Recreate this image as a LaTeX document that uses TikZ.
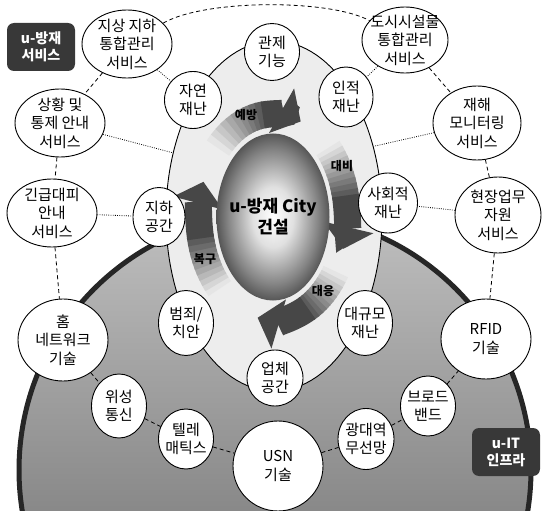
\documentclass[tikz,border=0pt]{standalone}
\usepackage{fontspec}
\setmainfont{Noto Sans CJK KR}
\usetikzlibrary{shapes.geometric,arrows.meta,calc}

\pgfdeclareradialshading{sphereshade}{\pgfpoint{0bp}{0bp}}{color(0bp)=(white); color(9bp)=(black!12); color(20bp)=(black!48); color(31bp)=(black!88); color(50bp)=(black)}

\tikzset{
  bub/.style 2 args={ellipse, draw, line width=0.9pt, fill=white, inner xsep=-6pt, inner ysep=-2pt,
    minimum width=#1, minimum height=#2, align=center, font=\fontsize{15}{18.5}\selectfont},
  svclink/.style={dashed, line width=0.8pt, dash pattern=on 4pt off 3pt},
  duelink/.style={line width=0.8pt, dash pattern=on 0.8pt off 1.4pt},
  cycletail/.style={line width=27pt, draw=black!#1},
  cyclearrow/.style={line width=27pt, draw=black!72, -{Triangle[length=22pt,width=50pt]}},
  phase/.style={font=\fontsize{12}{14}\selectfont\bfseries},
  tagbox/.style={rounded corners=7pt, fill=black!78, text=white, align=center, inner sep=0pt,
    minimum width=68, minimum height=48, font=\fontsize{14}{17}\selectfont\bfseries}
}

\begin{document}
\begin{tikzpicture}[x=1pt,y=-1pt]
\useasboundingbox (0,0) rectangle (542,511);

% u-IT infra area
\begin{scope}
\clip (0,0) rectangle (542,511);
\shade[top color=black!25, bottom color=black!62] (275,470) circle[radius=256];
\draw[line width=5pt, black!85] (275,470) circle[radius=256];
\end{scope}

% disaster zone
\node[ellipse, draw, line width=0.9pt, fill=black!7, minimum width=216, minimum height=350, inner sep=0pt] (zone) at (274,216) {};

% cycle arrows, fading tails
\coordinate (hub) at (273,217);
\foreach \s/\m/\e in {222/262/292,318/348/378,32/62/102,136/168/200}{
  \foreach \k in {0,...,9}{
    \pgfmathsetmacro\a{\s+(\m-\s)*\k/10}
    \pgfmathsetmacro\b{\s+(\m-\s)*(\k+1.4)/10}
    \pgfmathtruncatemacro\c{10+6*\k}
    \draw[cycletail=\c] ($(hub)+(\a:74 and 103)$) arc[start angle=\a, end angle=\b, x radius=74, y radius=103];
  }
  \draw[cyclearrow] ($(hub)+(\m:74 and 103)$) arc[start angle=\m, end angle=\e, x radius=74, y radius=103];
}
\node[phase] (p1) at (246,115) {예방};
\node[phase] (p2) at (342,166) {대비};
\node[phase] (p3) at (323,291) {대응};
\node[phase] (p4) at (205,259) {복구};

\node[ellipse, shade, shading=sphereshade, minimum width=113, minimum height=167, inner xsep=-4pt, inner ysep=0pt,
  align=center, font=\fontsize{17}{21}\selectfont\bfseries] (core) at (273,217) {u-방재 City\\건설};

% services
\node[bub={90}{68}] (s1) at (127,44) {지상 지하\\통합관리\\서비스};
\node[bub={86}{66}] (s2) at (405,40) {도시시설물\\통합관리\\서비스};
\node[bub={90}{68}] (s3) at (60,123) {상황 및\\통제 안내\\서비스};
\node[bub={88}{74}] (s4) at (477,123) {재해\\모니터링\\서비스};
\node[bub={90}{68}] (s5) at (52,213) {긴급대피\\안내\\서비스};
\node[bub={86}{76}] (s6) at (498,215) {현장업무\\자원\\서비스};

% disasters
\node[bub={55}{57}] (d1) at (272,52) {관제\\기능};
\node[bub={57}{57}] (d2) at (193,100) {자연\\재난};
\node[bub={54}{60}] (d3) at (346,97) {인적\\재난};
\node[bub={52}{59}] (d4) at (159,217) {지하\\공간};
\node[bub={59}{60}] (d5) at (388,203) {사회적\\재난};
\node[bub={55}{65}] (d6) at (186,323) {범죄/\\치안};
\node[bub={56}{56}] (d7) at (275,378) {업체\\공간};
\node[bub={55}{65}] (d8) at (365,323) {대규모\\재난};

% technologies
\node[bub={90}{82}] (t1) at (63,340) {홈\\네트워크\\기술};
\node[bub={55}{64}] (t2) at (119,406) {위성\\통신};
\node[bub={55}{60}] (t3) at (186,439) {텔레\\매틱스};
\node[bub={90}{90}] (t4) at (278,466) {USN\\기술};
\node[bub={56}{61}] (t5) at (366,439) {광대역\\무선망};
\node[bub={55}{60}] (t6) at (428,406) {브로드\\밴드};
\node[bub={90}{80}] (t7) at (486,339) {RFID\\기술};

\node[tagbox] (g1) at (41,47) {u-방재\\서비스};
\node[tagbox] (g2) at (506,452) {u-IT\\인프라};

% links
\draw[svclink] (s1) .. controls (205,-1) and (330,-1) .. (s2);
\draw (s1) edge[svclink] (s3) (s3) edge[svclink] (s5) (s5) edge[svclink] (t1);
\draw (s2) edge[svclink] (s4) (s4) edge[svclink] (s6) (s6) edge[svclink] (t7);
\draw (t1) edge[svclink] (t2) (t2) edge[svclink] (t3) (t3) edge[svclink] (t4);
\draw (t4) edge[svclink] (t5) (t5) edge[svclink] (t6) (t6) edge[svclink] (t7);
\draw (s1) edge[duelink] (d2);
\draw (s3) edge[duelink] (zone.148);
\draw (s5) edge[duelink] (d4);
\draw (s2) edge[duelink] (d3);
\draw (s4) edge[duelink] (zone.35);
\draw (s6) edge[duelink] (d5);
\end{tikzpicture}
\end{document}
